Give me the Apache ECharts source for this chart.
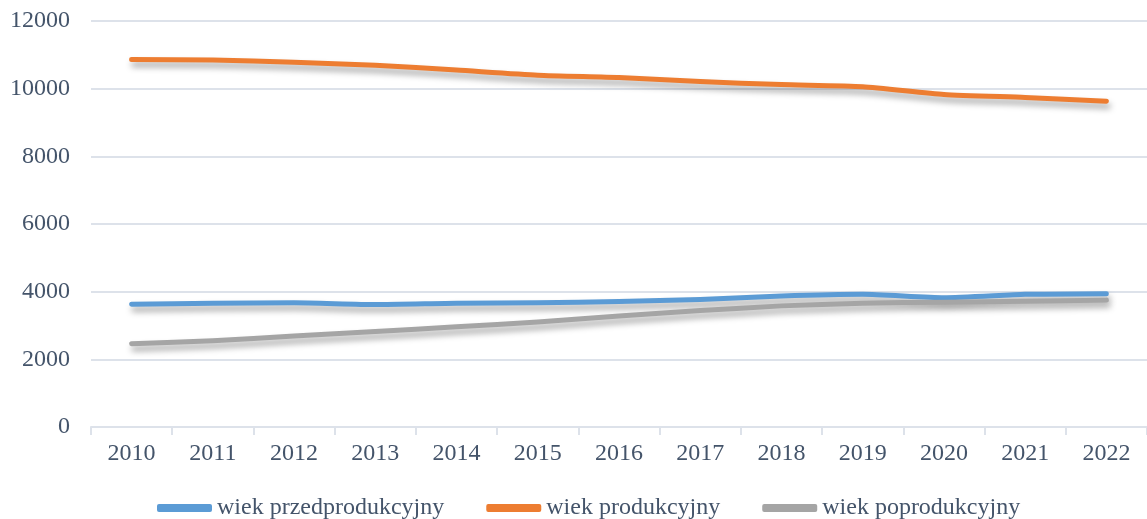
<!DOCTYPE html>
<html>
<head>
<meta charset="utf-8">
<script src="https://cdn.jsdelivr.net/npm/echarts@6/dist/echarts.min.js"></script>
<style>
  html, body { margin: 0; padding: 0; background: #fff; }
  #main { width: 1147px; height: 519px; }
</style>
</head>
<body>
<div id="main"></div>
<script>
// lata
const years = ['2010', '2011', '2012', '2013', '2014', '2015', '2016', '2017', '2018', '2019', '2020', '2021', '2022'];
// wartosci
const przedprodukcyjny = [3630, 3660, 3670, 3620, 3660, 3670, 3710, 3770, 3870, 3920, 3820, 3920, 3940];
const produkcyjny = [10860, 10850, 10780, 10690, 10550, 10400, 10330, 10210, 10120, 10060, 9830, 9740, 9630];
const poprodukcyjny = [2460, 2550, 2690, 2825, 2960, 3100, 3280, 3440, 3580, 3660, 3690, 3720, 3750];

const textColor = '#44546A';
const gridColor = '#DDE2EA';
const font = '"Liberation Serif", "Times New Roman", serif';

var chart = echarts.init(document.getElementById('main'), null, { renderer: 'canvas' });

function lineSeries(name, data, color) {
  return {
    name: name,
    type: 'line',
    data: data,
    smooth: 0.2,
    showSymbol: false,
    symbol: 'none',
    lineStyle: {
      width: 5,
      color: color,
      cap: 'round',
      join: 'round',
      shadowColor: 'rgba(0,0,0,0.35)',
      shadowBlur: 6,
      shadowOffsetX: 2,
      shadowOffsetY: 5
    },
    itemStyle: { color: color },
    emphasis: { disabled: true }
  };
}

option = {
  backgroundColor: '#fff',
  animation: false,
  textStyle: { fontFamily: font },
  grid: {
    left: 91,
    top: 21,
    width: 1062,
    height: 406
  },
  legend: {
    bottom: -6,
    left: 152,
    itemWidth: 55,
    itemHeight: 8,
    itemGap: 42,
    icon: 'roundRect',
    textStyle: { fontSize: 24, color: textColor, fontFamily: font },
    data: [
      { name: 'wiek przedprodukcyjny', itemStyle: { color: '#5B9BD5' } },
      { name: 'wiek produkcyjny', itemStyle: { color: '#ED7D31' } },
      { name: 'wiek poprodukcyjny', itemStyle: { color: '#A5A5A5' } }
    ]
  },
  xAxis: {
    type: 'category',
    data: years,
    boundaryGap: true,
    axisLine: { show: true, lineStyle: { color: gridColor, width: 2 } },
    axisTick: { show: true, length: 8, lineStyle: { color: gridColor, width: 2 } },
    axisLabel: { color: textColor, fontSize: 24, fontFamily: font, margin: 15, interval: 0 }
  },
  yAxis: {
    type: 'value',
    min: 0,
    max: 12000,
    interval: 2000,
    axisLine: { show: false },
    axisTick: { show: false },
    axisLabel: {
      color: textColor, fontSize: 24, fontFamily: font, margin: 21,
      formatter: function (v) { return String(v); }
    },
    splitLine: { show: true, lineStyle: { color: gridColor, width: 2 } }
  },
  series: [
    lineSeries('wiek przedprodukcyjny', przedprodukcyjny, '#5B9BD5'),
    lineSeries('wiek produkcyjny', produkcyjny, '#ED7D31'),
    lineSeries('wiek poprodukcyjny', poprodukcyjny, '#A5A5A5')
  ]
};
chart.setOption(option);
</script>
</body>
</html>
